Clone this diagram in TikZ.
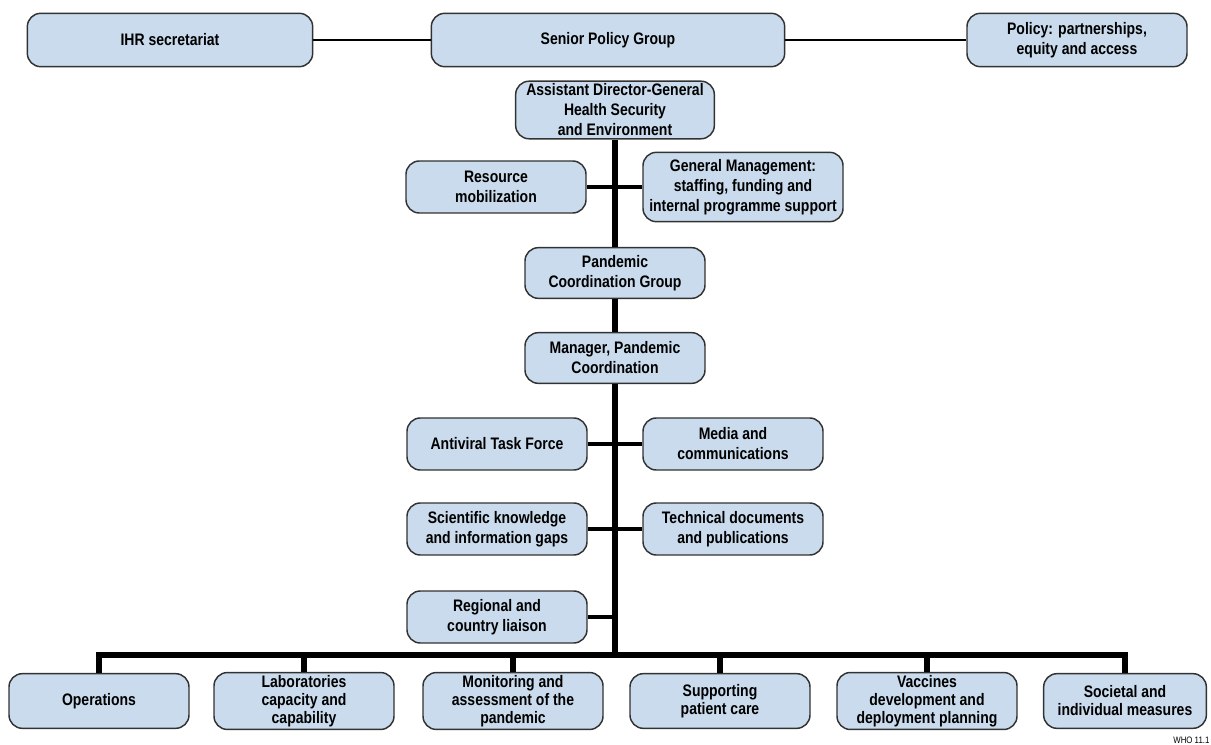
\documentclass[tikz,border=0pt]{standalone}
\usepackage{fontspec}
\setmainfont{Liberation Sans}[FakeStretch=0.84]
\definecolor{boxblue}{RGB}{201,219,236}
\definecolor{boxline}{RGB}{50,50,50}
\begin{document}
\begin{tikzpicture}[x=0.75pt, y=-0.75pt,
    box/.style={draw=boxline, fill=boxblue, line width=1.1pt, rounded corners=10pt,
        align=center, inner sep=2pt, minimum width=135pt, minimum height=39pt,
        font=\bfseries\fontsize{12.5}{15}\selectfont},
    lowbox/.style={box, minimum height=41pt, font=\bfseries\fontsize{12.5}{13.5}\selectfont},
    link/.style={line width=1.5pt},
    side/.style={line width=2.3pt},
    heavy/.style={line width=4.5pt, line join=miter}]
        \useasboundingbox (0,0) rectangle (1211,745);
        % top row
        \node[box, minimum width=214pt, minimum height=40pt] (ihr) at (170,40) {IHR secretariat};
        \node[box, minimum width=265pt, minimum height=40pt] (spg) at (608,40) {Senior Policy Group};
        \node[box, minimum width=165pt, minimum height=40pt] (pol) at (1077,40)
        {Policy: partnerships,\\equity and access};
        \draw[link] (ihr) -- (spg);
        \draw[link] (spg) -- (pol);
        % spine
        \node[box, minimum width=149pt] (adg) at (615,110)
        {Assistant Director-General\\Health Security\\and Environment};
        \node[box] (res) at (496,187) {Resource\\mobilization};
        \node[box, minimum width=150pt, minimum height=52pt] (gen) at (743,187)
        {General Management:\\staffing, funding and\\internal programme support};
        \node[box, minimum height=38pt] (pcg) at (615,273) {Pandemic\\Coordination Group};
        \node[box, minimum height=38pt] (mgr) at (615,358) {Manager, Pandemic\\Coordination};
        \node[box] (avt) at (497,444) {Antiviral Task Force};
        \node[box] (med) at (733,444) {Media and\\communications};
        \node[box] (sci) at (497,529) {Scientific knowledge\\and information gaps};
        \node[box] (tec) at (733,529) {Technical documents\\and publications};
        \node[box] (reg) at (497,617) {Regional and\\country liaison};
        \coordinate (bus) at (615,655);
        \draw[heavy] (adg.south) -- (pcg.north);
        \draw[heavy] (pcg.south) -- (mgr.north);
        \draw[heavy] (mgr.south) -- (bus);
        \draw[side] (res.east) -- (gen.west);
        \draw[side] (avt.east) -- (med.west);
        \draw[side] (sci.east) -- (tec.west);
        \draw[side] (reg.east) -- (reg.east -| bus);
        % bottom row
        \node[lowbox] (ops) at (99,701) {Operations};
        \node[lowbox] (lab) at (304,701) {Laboratories\\capacity and\\capability};
        \node[lowbox] (mon) at (513,701) {Monitoring and\\assessment of the\\pandemic};
        \node[lowbox] (sup) at (720,701) {Supporting\\patient care};
        \node[lowbox] (vac) at (927,701) {Vaccines\\development and\\deployment planning};
        \node[lowbox, minimum width=122pt] (soc) at (1125,701) {Societal and\\individual measures};
        \draw[heavy] (ops.north) |- (bus) -| (soc.north);
        \foreach \n in {lab,mon,sup,vac}
            \draw[heavy] (\n.north) -- (\n.north |- bus);
        \node[anchor=south east, inner sep=1pt, font=\fontsize{7}{8}\selectfont] (who) at (1211,745) {WHO 11.1};
    \end{tikzpicture}
\end{document}
